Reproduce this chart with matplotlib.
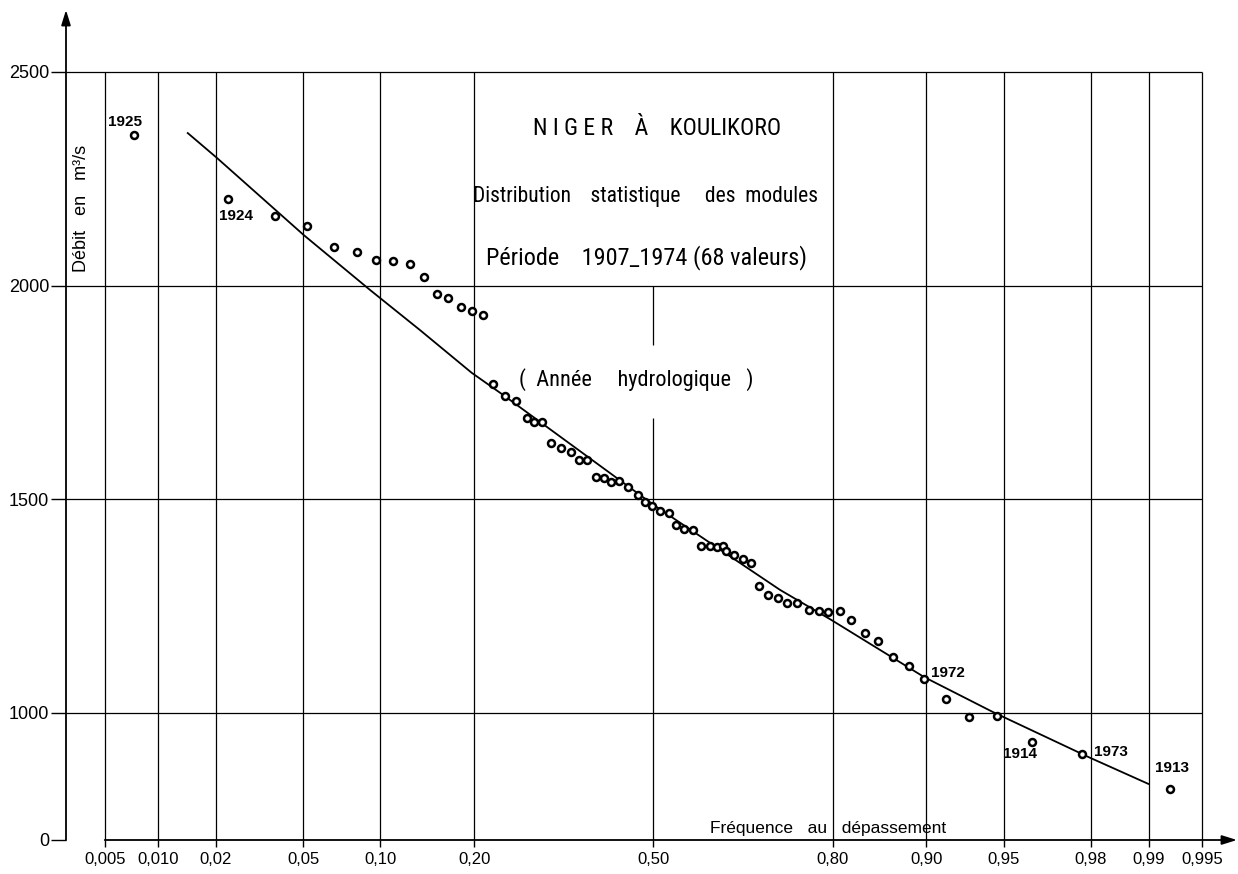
import numpy as np
import matplotlib
matplotlib.use('Agg')
import matplotlib.pyplot as plt
from statistics import NormalDist

plt.rcParams['font.family'] = ['Liberation Sans', 'DejaVu Sans']
NARROW = ['Roboto Condensed', 'Open Sans Condensed', 'DejaVu Sans Condensed',
          'Liberation Sans Narrow', 'Liberation Sans']

# frequence au depassement / debit (m3/s), 68 annual values
freq = [0.0074, 0.0229, 0.0380, 0.0518, 0.0670, 0.0818, 0.0963, 0.1105, 0.1265, 0.1406,
        0.1551, 0.1677, 0.1831, 0.1971, 0.2124, 0.2260, 0.2429, 0.2588, 0.2758, 0.2879,
        0.3008, 0.3152, 0.3315, 0.3493, 0.3627, 0.3780, 0.3936, 0.4076, 0.4209, 0.4357,
        0.4529, 0.4704, 0.4835, 0.4972, 0.5122, 0.5296, 0.5421, 0.5564, 0.5730, 0.5882,
        0.6040, 0.6177, 0.6274, 0.6327, 0.6478, 0.6623, 0.6764, 0.6903, 0.7046, 0.7201,
        0.7351, 0.7497, 0.7670, 0.7812, 0.7934, 0.8094, 0.8231, 0.8400, 0.8541, 0.8693,
        0.8846, 0.8982, 0.9152, 0.9307, 0.9466, 0.9621, 0.9779, 0.9923]
debit = [2353, 2202, 2164, 2140, 2090, 2079, 2060, 2058, 2050, 2020,
         1980, 1971, 1950, 1941, 1931, 1770, 1742, 1731, 1690, 1681,
         1681, 1632, 1621, 1611, 1591, 1592, 1552, 1550, 1540, 1542,
         1529, 1510, 1494, 1484, 1473, 1469, 1440, 1430, 1429, 1391,
         1391, 1389, 1391, 1380, 1369, 1360, 1351, 1298, 1277, 1268,
         1258, 1257, 1240, 1238, 1237, 1238, 1218, 1188, 1169, 1130,
         1110, 1079, 1032, 990, 993, 932, 904, 822]

# fitted distribution curve
curve_freq = [0.0144, 0.0202, 0.0504, 0.0916, 0.1365, 0.1967, 0.2403, 0.5, 0.7237,
              0.7977, 0.8980, 0.9445, 0.9798, 0.9899]
curve_debit = [2357, 2299, 2118, 1990, 1896, 1796, 1744, 1487, 1288,
               1218, 1084, 1002, 895, 834]

years = ['1925', '1924', '1972', '1914', '1973', '1913']
year_idx = [0, 1, 61, 65, 66, 67]

tick_freqs = [0.005, 0.010, 0.02, 0.05, 0.10, 0.20, 0.50, 0.80, 0.90, 0.95, 0.98, 0.99, 0.995]
tick_labels = ['0,005', '0,010', '0,02', '0,05', '0,10', '0,20', '0,50', '0,80', '0,90',
               '0,95', '0,98', '0,99', '0,995']
y_grid = [1000, 1500, 2000, 2500]
y_labels = ['0', '1000', '1500', '2000', '2500']

_nd = NormalDist()


def _ppf(p):
    p = np.clip(np.asarray(p, dtype=float), 1e-12, 1 - 1e-12)
    return np.vectorize(_nd.inv_cdf, otypes=[float])(p)


def _cdf(z):
    z = np.clip(np.asarray(z, dtype=float), -30, 30)
    return np.vectorize(_nd.cdf, otypes=[float])(z)


W, H = 1238, 874
fig = plt.figure(figsize=(W / 100, H / 100), dpi=100)
ax = fig.add_axes([66 / W, 34 / H, 1171 / W, 830 / H])
ax.set_xscale('function', functions=(_ppf, _cdf))
ax.set_xlim(0.00291, 0.99692)
ax.set_ylim(702.6, 2645)
for s in ax.spines.values():
    s.set_visible(False)
x0, x1 = ax.get_xlim()
y0, y1 = ax.get_ylim()

# grid of the probability paper
ax.hlines(y_grid, x0, tick_freqs[-1], color='k', lw=0.9)
for f in tick_freqs:
    if f == 0.50:
        ax.vlines([f, f], [y0, 1861], [1690, 2000], color='k', lw=0.9)
    else:
        ax.vlines(f, y0, y_grid[-1], color='k', lw=0.9)

# axes with arrows
arrow = dict(arrowstyle='-|>,head_length=0.9,head_width=0.28', color='k', lw=1.3,
             shrinkA=0, shrinkB=0)
ax.annotate('', xy=(x0, y1), xytext=(x0, y0), arrowprops=arrow, annotation_clip=False)
ax.annotate('', xy=(x1, y0), xytext=(tick_freqs[0], y0), arrowprops=arrow,
            annotation_clip=False)

ax.set_xticks(tick_freqs, tick_labels)
ax.set_yticks([y0] + y_grid, y_labels)
ax.tick_params(axis='x', direction='out', length=5, width=1, pad=4, labelsize=12)
ax.tick_params(axis='y', direction='out', length=11, width=1, pad=1, labelsize=13)
ax.minorticks_off()

ax.plot(curve_freq, curve_debit, color='k', lw=1.3, zorder=3)
ax.plot(freq, debit, 'o', ms=5, mfc='white', mec='k', mew=1.8, zorder=4)

offsets = [(-9, 13), (8, -17), (24, 6), (-12, -12), (29, 2), (2, 21)]
for yr, i, off in zip(years, year_idx, offsets):
    ax.annotate(yr, (freq[i], debit[i]), xytext=off, textcoords='offset pixels',
                ha='center', va='center', fontsize=11, fontweight='bold')

# title block
fig.text(657 / W, 1 - 135 / H, 'N I G E R    À    KOULIKORO', ha='center',
         va='baseline', fontsize=17, family=NARROW)
fig.text(645 / W, 1 - 202 / H, 'Distribution    statistique     des  modules',
         ha='center', va='baseline', fontsize=15.5, family=NARROW)
fig.text(646 / W, 1 - 264 / H, 'Période    1907_1974 (68 valeurs)', ha='center',
         va='baseline', fontsize=17.5, family=NARROW)
fig.text(636 / W, 1 - 386 / H, '(  Année     hydrologique   )', ha='center',
         va='baseline', fontsize=16, family=NARROW)

fig.text(81 / W, 1 - 208 / H, 'Débit   en   m³/s', rotation=90, ha='center', va='center',
         fontsize=13)
fig.text(828 / W, 1 - 833 / H, 'Fréquence   au   dépassement', ha='center', va='baseline',
         fontsize=12.5)

fig.savefig('out.png', dpi=100)
